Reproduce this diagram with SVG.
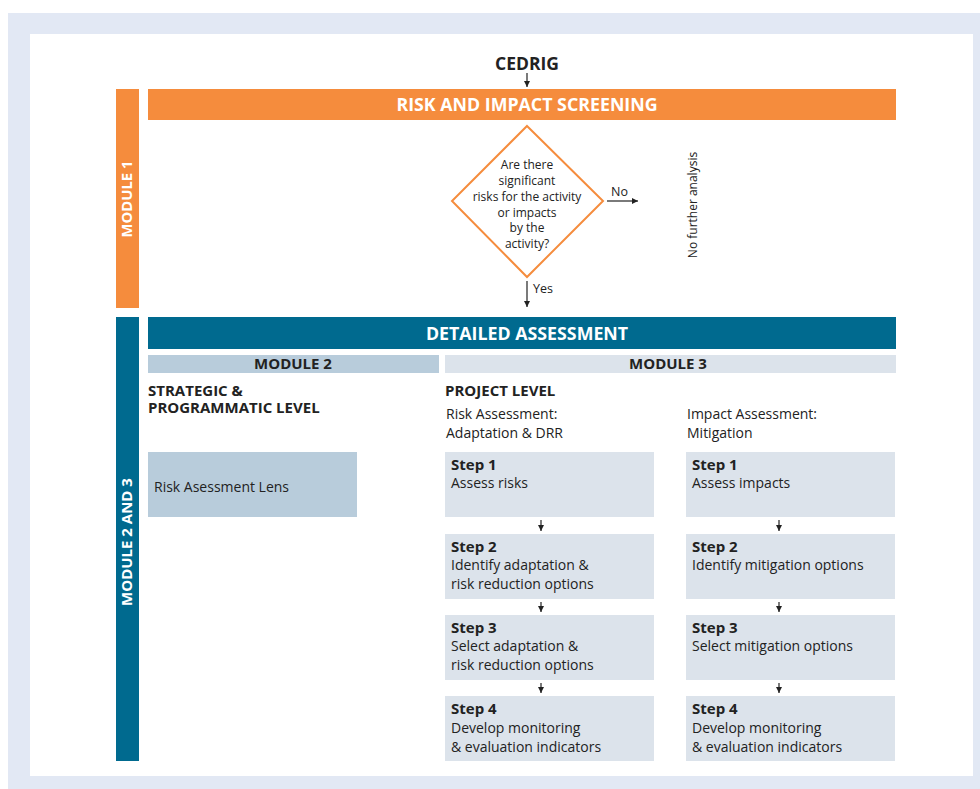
<svg xmlns="http://www.w3.org/2000/svg" width="980" height="789" viewBox="0 0 980 789">
<defs>
<marker id="ah" viewBox="0 0 10 10" refX="10" refY="5" markerWidth="6" markerHeight="6" markerUnits="userSpaceOnUse" orient="auto">
<path d="M0,0 L10,5 L0,10 z" fill="#222"/>
</marker>
</defs>
<style>
text{font-family:"Open Sans","Noto Sans","Liberation Sans",sans-serif;fill:#222}
.b{font-weight:bold}
.w{fill:#fff}
.t{font-size:14px}
.h{font-size:15px;font-weight:bold}
.sb{font-size:15px;font-weight:bold}
.step{fill:#DCE3EB}
.con{stroke:#222;stroke-width:1.2;fill:none;marker-end:url(#ah)}
</style>
<rect x="0" y="0" width="980" height="789" fill="#fff"/>
<rect x="8" y="13" width="972" height="776" fill="#E2E8F4"/>
<rect x="30" y="34" width="943" height="742" fill="#fff"/>

<g id="cedrig"><text x="527" y="70" text-anchor="middle" class="b" font-size="17.5">CEDRIG</text></g>

<g id="module1"><rect x="116" y="89" width="23" height="219" fill="#F58C3D"/>
<text transform="translate(132,199) rotate(-90)" text-anchor="middle" class="b w" font-size="14.8">MODULE 1</text></g>

<g id="screening"><rect x="148" y="89" width="748" height="31" fill="#F58C3D"/>
<text x="527" y="111" text-anchor="middle" class="b w" font-size="17.8">RISK AND IMPACT SCREENING</text></g>

<g id="decision"><path d="M527,126 L603,201 L527,277 L452,201 Z" fill="#fff" stroke="#F58C3D" stroke-width="2"/>
<text text-anchor="middle" font-size="12"><tspan x="527" y="169">Are there</tspan><tspan x="527" y="185">significant</tspan><tspan x="527" y="201">risks for the activity</tspan><tspan x="527" y="217">or impacts</tspan><tspan x="527" y="232">by the</tspan><tspan x="527" y="248">activity?</tspan></text></g>

<g id="nofurther"><text transform="translate(697,205) rotate(-90)" text-anchor="middle" font-size="12">No further analysis</text></g>

<g id="module23"><rect x="116" y="317" width="23" height="444" fill="#006A8F"/>
<text transform="translate(132,542) rotate(-90)" text-anchor="middle" class="b w" font-size="15">MODULE 2 AND 3</text></g>

<g id="detailed"><rect x="148" y="317" width="748" height="32" fill="#006A8F"/>
<text x="527" y="340" text-anchor="middle" class="b w" font-size="17.8">DETAILED ASSESSMENT</text></g>

<g id="module2"><rect x="148" y="355" width="291" height="18" fill="#B8CCDB"/>
<text x="293" y="369" text-anchor="middle" class="h">MODULE 2</text>
<text x="148" y="396" class="h">STRATEGIC &amp;</text>
<text x="148" y="413" class="h">PROGRAMMATIC LEVEL</text></g>

<g id="module3"><rect x="445" y="355" width="451" height="18" fill="#DCE3EB"/>
<text x="668" y="369" text-anchor="middle" class="h">MODULE 3</text>
<text x="445" y="396" class="h">PROJECT LEVEL</text>
<text class="t"><tspan x="446" y="419">Risk Assessment:</tspan><tspan x="446" y="438">Adaptation &amp; DRR</tspan></text>
<text class="t"><tspan x="687" y="419">Impact Assessment:</tspan><tspan x="687" y="438">Mitigation</tspan></text></g>

<g id="lens"><rect x="148" y="452" width="209" height="65" fill="#B8CCDB"/>
<text x="154" y="492" class="t">Risk Asessment Lens</text></g>

<g id="r1"><rect class="step" x="445" y="452" width="209" height="65"/>
<text x="451" y="470" class="sb">Step 1</text><text x="451" y="488" class="t">Assess risks</text></g>
<g id="r2"><rect class="step" x="445" y="534" width="209" height="65"/>
<text x="451" y="552" class="sb">Step 2</text><text class="t"><tspan x="451" y="570">Identify adaptation &amp;</tspan><tspan x="451" y="589">risk reduction options</tspan></text></g>
<g id="r3"><rect class="step" x="445" y="615" width="209" height="65"/>
<text x="451" y="633" class="sb">Step 3</text><text class="t"><tspan x="451" y="651">Select adaptation &amp;</tspan><tspan x="451" y="670">risk reduction options</tspan></text></g>
<g id="r4"><rect class="step" x="445" y="696" width="209" height="65"/>
<text x="451" y="714" class="sb">Step 4</text><text class="t"><tspan x="451" y="733">Develop monitoring</tspan><tspan x="451" y="752">&amp; evaluation indicators</tspan></text></g>

<g id="i1"><rect class="step" x="686" y="452" width="209" height="65"/>
<text x="692" y="470" class="sb">Step 1</text><text x="692" y="488" class="t">Assess impacts</text></g>
<g id="i2"><rect class="step" x="686" y="534" width="209" height="65"/>
<text x="692" y="552" class="sb">Step 2</text><text x="692" y="570" class="t">Identify mitigation options</text></g>
<g id="i3"><rect class="step" x="686" y="615" width="209" height="65"/>
<text x="692" y="633" class="sb">Step 3</text><text x="692" y="651" class="t">Select mitigation options</text></g>
<g id="i4"><rect class="step" x="686" y="696" width="209" height="65"/>
<text x="692" y="714" class="sb">Step 4</text><text class="t"><tspan x="692" y="733">Develop monitoring</tspan><tspan x="692" y="752">&amp; evaluation indicators</tspan></text></g>

<g id="connectors">
<line class="con" x1="527" y1="73" x2="527" y2="87"/>
<line class="con" x1="607" y1="201" x2="638" y2="201"/>
<text x="611" y="196" font-size="12.5">No</text>
<line class="con" x1="527" y1="281" x2="527" y2="307"/>
<text x="533" y="293" font-size="12.5">Yes</text>
<line class="con" x1="541" y1="520" x2="541" y2="531"/>
<line class="con" x1="541" y1="602" x2="541" y2="612"/>
<line class="con" x1="541" y1="683" x2="541" y2="693"/>
<line class="con" x1="779" y1="520" x2="779" y2="531"/>
<line class="con" x1="779" y1="602" x2="779" y2="612"/>
<line class="con" x1="779" y1="683" x2="779" y2="693"/>
</g>
</svg>
